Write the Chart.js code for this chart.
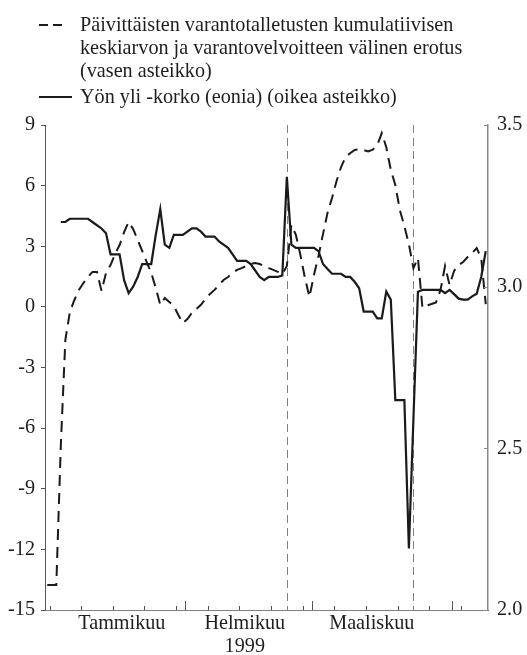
<!DOCTYPE html>
<html>
<head>
<meta charset="utf-8">
<script src="https://cdn.jsdelivr.net/npm/chart.js@4.4.1/dist/chart.umd.min.js"></script>
<style>
  html, body { margin: 0; padding: 0; background: #fff; }
  #wrap { position: relative; width: 527px; height: 655px; overflow: hidden; }
  #chart { position: absolute; left: 0; top: 0; }
  .legend-text { position: absolute; left: 80px; font-family: "Liberation Serif", "Times New Roman", serif;
                 font-size: 20.2px; line-height: 23px; color: #1e1e1e; white-space: nowrap; }
  .swatch { position: absolute; height: 2px; background: #1a1a1a; }
</style>
</head>
<body>
<div id="wrap">
  <canvas id="chart" width="527" height="655"></canvas>
  <div class="swatch" style="left:39px; top:24px; width:9px;"></div>
  <div class="swatch" style="left:53px; top:24px; width:9px;"></div>
  <div class="legend-text" style="top:13px;">Päivittäisten varantotalletusten kumulatiivisen<br>keskiarvon ja varantovelvoitteen välinen erotus<br>(vasen asteikko)</div>
  <div class="swatch" style="left:39px; top:96px; width:33px;"></div>
  <div class="legend-text" style="top:85px;">Yön yli -korko (eonia) (oikea asteikko)</div>
</div>
<script>
// Day of year 1999 (1 = 1 January)
const days = [
   1,  2,  3,  4,  5,  6,  7,  8,  9, 10, 11, 12, 13, 14, 15, 16, 17, 18, 19, 20,
  21, 22, 23, 24, 25, 26, 27, 28, 29, 30, 31, 32, 33, 34, 35, 36, 37, 38, 39, 40,
  41, 42, 43, 44, 45, 46, 47, 48, 49, 50, 51, 52, 53, 54, 55, 56, 57, 58, 59, 60,
  61, 62, 63, 64, 65, 66, 67, 68, 69, 70, 71, 72, 73, 74, 75, 76, 77, 78, 79, 80,
  81, 82, 83, 84, 85, 86, 87, 88, 89, 90, 91, 92, 93, 94, 95, 96, 97, 98
];

// Cumulative average of daily reserve holdings minus reserve requirement, EUR bn (left scale)
const reserveDiff = [
  -13.76, -13.76, -13.76, -6.85, -1.64, -0.25, 0.34, 0.84, 1.18, 1.48,
  1.73, 1.73, 0.79, 1.68, 2.07, 2.62, 3.06, 3.70, 4.20, 3.85,
  3.31, 2.77, 2.22, 1.68, 0.94, 0.10, 0.44, 0.24, 0.04, -0.40,
  -0.80, -0.60, -0.30, -0.10, 0.10, 0.39, 0.64, 0.84, 1.08, 1.33,
  1.48, 1.68, 1.83, 1.92, 2.02, 2.12, 2.17, 2.12, 2.02, 1.92,
  1.83, 1.73, 1.63, 2.02, 4.05, 3.56, 2.57, 1.43, 0.49, 1.58,
  2.52, 3.60, 4.65, 5.39, 6.23, 6.92, 7.42, 7.60, 7.76, 7.80,
  7.76, 7.69, 7.78, 8.00, 8.60, 7.90, 6.78, 6.03, 4.79, 4.00,
  3.10, 1.92, 2.42, -0.05, 0.07, 0.14, 0.22, 0.84, 2.02, 1.08,
  1.78, 2.07, 2.22, 2.47, 2.67, 2.91, 2.42, 0.14
];

// Eonia overnight rate, % (right scale); quoted from 4 January onwards
const eoniaRate = [
  null, null, null, 3.20, 3.20, 3.21, 3.21, 3.21, 3.21, 3.21,
  3.20, 3.19, 3.18, 3.165, 3.10, 3.10, 3.10, 3.02, 2.98, 3.00,
  3.03, 3.07, 3.07, 3.07, 3.16, 3.24, 3.13, 3.12, 3.16, 3.16,
  3.16, 3.17, 3.18, 3.18, 3.17, 3.155, 3.155, 3.155, 3.14, 3.13,
  3.12, 3.10, 3.08, 3.08, 3.08, 3.07, 3.05, 3.03, 3.02, 3.03,
  3.03, 3.03, 3.035, 3.34, 3.13, 3.12, 3.12, 3.12, 3.12, 3.12,
  3.11, 3.07, 3.055, 3.04, 3.04, 3.04, 3.03, 3.03, 3.015, 2.995,
  2.923, 2.923, 2.923, 2.902, 2.902, 2.985, 2.96, 2.649, 2.649, 2.649,
  2.19, 2.59, 2.984, 2.99, 2.99, 2.99, 2.99, 2.99, 2.98, 2.99,
  2.977, 2.963, 2.96, 2.96, 2.97, 2.978, 3.03, 3.11
];

// Axis ticks
const leftTicks = [9, 6, 3, 0, -3, -6, -9, -12, -15];
const rightTicks = [3.5, 3.0, 2.5, 2.0];
const monthNames = ['Tammikuu', ['Helmikuu', '1999'], 'Maaliskuu'];
const monthLabelDays = [17.5, 44.7, 72.8];
const weekTickDays = [1.5, 8.5, 15.5, 22.5, 29.5, 36.5, 43.5, 50.5, 57.5, 64.5, 71.5, 78.5, 85.5, 92.5];
const monthTickDays = [31.5, 59.5, 90.5];
// Last days of the reserve maintenance periods (23 Feb, 23 Mar)
const periodEndDays = [54, 82];

const serif = '"Liberation Serif", "Times New Roman", serif';
const ink = '#1a1a1a';

const decorations = {
  id: 'decorations',
  beforeDatasetsDraw(chart) {
    const { ctx, chartArea: a, scales: { x } } = chart;
    ctx.save();
    ctx.strokeStyle = '#808080';
    ctx.lineWidth = 1;
    ctx.setLineDash([8, 5]);
    periodEndDays.forEach(d => {
      const px = Math.round(x.getPixelForValue(d)) + 0.5;
      ctx.beginPath();
      ctx.moveTo(px, a.top);
      ctx.lineTo(px, a.bottom);
      ctx.stroke();
    });
    ctx.restore();
  },
  afterDraw(chart) {
    const { ctx, chartArea: a, scales: { x, yRight } } = chart;
    ctx.save();
    ctx.lineWidth = 1;
    ctx.strokeStyle = '#555';
    const tick = (d, len) => {
      const px = Math.round(x.getPixelForValue(d)) + 0.5;
      ctx.beginPath();
      ctx.moveTo(px, a.bottom);
      ctx.lineTo(px, a.bottom - len);
      ctx.stroke();
    };
    weekTickDays.forEach(d => tick(d, 4));
    monthTickDays.forEach(d => tick(d, 9));
    ctx.strokeStyle = '#888';
    rightTicks.forEach(v => {
      const py = Math.round(yRight.getPixelForValue(v)) + 0.5;
      ctx.beginPath();
      ctx.moveTo(a.right, py);
      ctx.lineTo(a.right - 4, py);
      ctx.stroke();
    });
    ctx.restore();
  }
};

new Chart(document.getElementById('chart'), {
  type: 'line',
  data: {
    datasets: [
      {
        label: 'Päivittäisten varantotalletusten kumulatiivisen keskiarvon ja varantovelvoitteen välinen erotus',
        data: days.map((d, i) => ({ x: d, y: reserveDiff[i] })),
        yAxisID: 'yLeft',
        borderColor: ink,
        borderWidth: 2,
        borderDash: [11, 7],
        pointRadius: 0,
        tension: 0,
        fill: false
      },
      {
        label: 'Yön yli -korko (eonia)',
        data: days.map((d, i) => ({ x: d, y: eoniaRate[i] })),
        yAxisID: 'yRight',
        borderColor: ink,
        borderWidth: 2.2,
        pointRadius: 0,
        tension: 0,
        fill: false
      }
    ]
  },
  options: {
    responsive: false,
    animation: false,
    devicePixelRatio: 1,
    locale: 'en-US',
    layout: { padding: { top: 125, left: 0, right: 0, bottom: 0 } },
    plugins: { legend: { display: false }, tooltip: { enabled: false } },
    scales: {
      x: {
        type: 'linear',
        position: 'bottom',
        min: 0.5,
        max: 98.5,
        afterFit(s) { s.height = 45; },
        afterBuildTicks(s) { s.ticks = monthLabelDays.map(v => ({ value: v })); },
        ticks: {
          autoSkip: false,
          maxRotation: 0,
          padding: 2,
          color: '#1e1e1e',
          font: { family: serif, size: 20.2, lineHeight: 1.15 },
          callback: (v, i) => monthNames[i]
        },
        grid: { display: false, drawTicks: false },
        border: { display: true, color: '#808080', width: 1 }
      },
      yLeft: {
        type: 'linear',
        position: 'left',
        min: -15,
        max: 9,
        afterFit(s) { s.width = 45; },
        afterBuildTicks(s) { s.ticks = leftTicks.map(v => ({ value: v })); },
        ticks: {
          padding: 6,
          color: '#1e1e1e',
          font: { family: serif, size: 20.2 },
          callback: v => String(v)
        },
        grid: { display: true, drawOnChartArea: false, drawTicks: true, tickLength: 4, color: '#555' },
        border: { display: true, color: '#555', width: 1 }
      },
      yRight: {
        type: 'linear',
        position: 'right',
        min: 2.0,
        max: 3.5,
        afterFit(s) { s.width = 39; },
        afterBuildTicks(s) { s.ticks = rightTicks.map(v => ({ value: v })); },
        ticks: {
          padding: 9,
          color: '#1e1e1e',
          font: { family: serif, size: 20.2 },
          callback: v => v.toFixed(1)
        },
        grid: { display: false, drawTicks: false },
        border: { display: true, color: '#888', width: 1.5 }
      }
    }
  },
  plugins: [decorations]
});
</script>
</body>
</html>
